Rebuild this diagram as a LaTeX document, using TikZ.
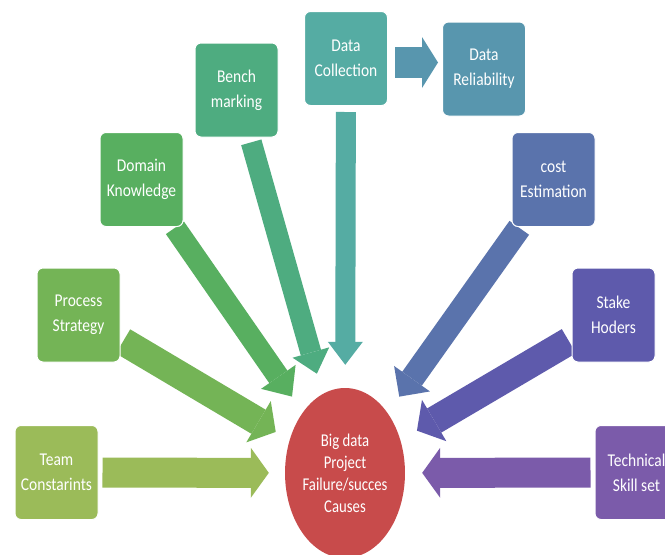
\documentclass[tikz,border=0pt]{standalone}
\usepackage{fontspec}
\setmainfont{Carlito}[FakeStretch=0.86]
\newfontfamily\circfont{Carlito}[FakeStretch=0.82]
\usetikzlibrary{arrows.meta,shapes.geometric}
\pgfdeclarelayer{bg}
\pgfsetlayers{bg,main}
\definecolor{cTeam}{RGB}{155,187,89}
\definecolor{cProc}{RGB}{116,180,86}
\definecolor{cDom}{RGB}{88,175,96}
\definecolor{cBench}{RGB}{78,172,128}
\definecolor{cDC}{RGB}{85,172,163}
\definecolor{cDR}{RGB}{88,150,174}
\definecolor{cCost}{RGB}{90,115,172}
\definecolor{cStake}{RGB}{94,90,172}
\definecolor{cTech}{RGB}{123,91,170}
\definecolor{cRed}{RGB}{200,75,75}
\tikzset{
  box/.style={rounded corners=6pt, minimum width=83pt, minimum height=94pt,
    inner sep=0pt, text=white, align=center, draw=white, line width=1pt,
    font=\fontsize{18}{25}\selectfont},
  barr/.style args={#1/#2/#3}{line width=#1, line cap=butt,
    -{Triangle[length=#3 0 0, width=#2 0 0, line width=0pt 0 0]}},
}
\begin{document}
\begin{tikzpicture}[x=1pt,y=-1pt]
\useasboundingbox (0,0) rectangle (665,555);
% nodes
\node[box, fill=cDC]    (dc)    at (346,58.5)   {Data\\Collection};
\node[box, fill=cDR]    (dr)    at (484,69)     {Data\\Reliability};
\node[box, fill=cBench] (bm)    at (236.5,90)   {Bench\\marking};
\node[box, fill=cDom]   (dk)    at (141.5,179.5){Domain\\Knowledge};
\node[box, fill=cCost]  (ce)    at (553.5,179.5){cost\\Estimation};
\node[box, fill=cProc]  (ps)    at (78.5,315)   {Process\\Strategy};
\node[box, fill=cStake] (sh)    at (613.5,315)  {Stake\\Hoders};
\node[box, fill=cTeam]  (tc)    at (56.5,472.5) {Team\\Constarints};
\node[box, fill=cTech]  (ts)    at (636.5,472.5){Technical\\Skill set};
\node[ellipse, fill=cRed, minimum width=116pt, minimum height=170pt, inner sep=0pt,
  text=white, align=center, font=\circfont\fontsize{18}{22}\selectfont]
  (c) at (345,473) {Big data\\Project\\Failure/succes\\Causes};
\begin{pgfonlayer}{bg}
\fill[white] (0,0) rectangle (665,555);
\draw[barr=30pt/50pt/18pt, color=cTeam,  shorten <=4pt, shorten >=16pt] (tc) -- (c);
\draw[barr=30pt/50pt/18pt, color=cTech,  shorten <=4pt, shorten >=17pt] (ts) -- (c);
\draw[barr=28pt/48pt/20pt, color=cProc,  shorten <=3pt, shorten >=16pt] (ps) -- (c);
\draw[barr=28pt/48pt/20pt, color=cStake, shorten <=3pt, shorten >=19pt] (sh) -- (c);
\draw[barr=22pt/42pt/24pt, color=cDom,   shorten <=1pt, shorten >=19pt] (dk) -- (c);
\draw[barr=24pt/44pt/22pt, color=cCost,  shorten <=1pt, shorten >=20pt] (ce) -- (c);
\draw[barr=21pt/38pt/22pt, color=cBench, shorten <=5pt, shorten >=21pt] (bm) -- (c);
\draw[barr=20pt/35pt/23pt, color=cDC,    shorten <=6pt, shorten >=23pt] (dc) -- (c);
\draw[barr=31pt/51pt/16pt, color=cDR, shorten <=7pt, shorten >=4pt]
  ([yshift=-4pt]dc.east) -- ([yshift=-4pt]dc.east -| dr.west);
\end{pgfonlayer}
\end{tikzpicture}
\end{document}
